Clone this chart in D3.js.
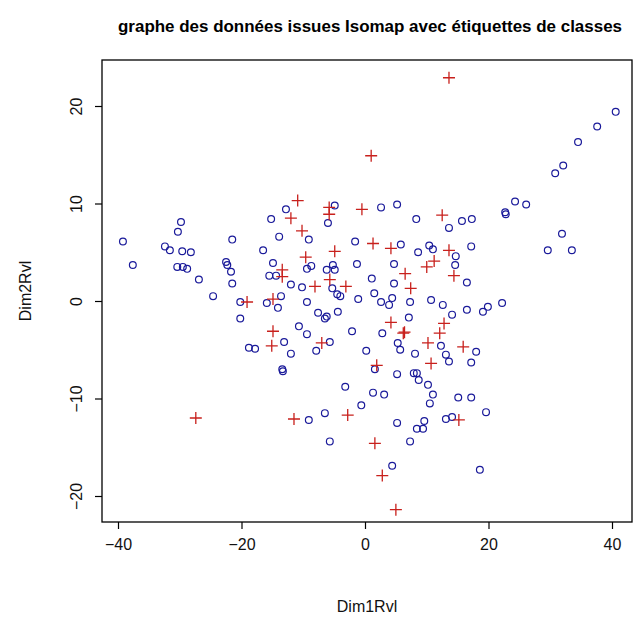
<!DOCTYPE html>
<html>
<head>
<meta charset="utf-8">
<script src="https://cdn.jsdelivr.net/npm/d3@7"></script>
<style>
  body { margin: 0; background: #fff; }
  text { font-family: "Liberation Sans", Arial, sans-serif; }
</style>
</head>
<body>
<svg id="chart" width="635" height="619"></svg>
<script>
// class 1 (blue circles)
const blueX = [-39.2,-37.6,-29.8,-30.3,-32.4,-31.6,-29.6,-28.2,-30.4,-29.5,-28.8,-26.9,-24.6,-21.5,-22.5,-22.3,-21.7,-21.5,-20.2,-20.2,-18.8,-17.8,-16.5,-15.2,-12.8,-13.9,-14.9,-15.5,-14.4,-12.0,-13.6,-15.9,-14.1,-10.2,-9.4,-9.1,-9.4,-8.7,-6.0,-4.9,-1.6,-6.2,-5.2,-4.9,-5.3,-4.5,-4.0,-1.3,-1.1,-7.6,-6.2,-6.5,-4.4,-10.7,-9.4,-2.1,-5.7,-7.9,-13.1,-12.0,0.2,-13.4,
  30.8,2.6,5.2,8.3,13.6,15.7,17.3,22.7,22.8,24.3,26.1,31.9,29.6,33.5,5.8,8.6,10.4,11.0,14.7,14.6,17.2,4.7,1.1,4.7,16.5,1.5,2.6,3.9,4.4,7.3,10.7,12.6,14.1,16.5,19.1,19.9,22.2,7.1,2.8,5.3,5.7,8.1,12.3,13.1,13.6,17.2,18.0,
  -13.3,1.6,5.2,7.9,8.4,8.7,10.2,-3.2,1.3,3.1,11.0,10.5,15.1,17.2,-0.6,-6.5,-9.1,19.6,5.2,9.6,8.4,9.4,13.1,14.1,-5.7,7.3,4.4,18.6,
  40.6,37.6,34.5,32.1];
const blueY = [6.1,3.7,8.1,7.1,5.6,5.2,5.1,5.0,3.5,3.5,3.3,2.2,0.5,6.3,4.0,3.7,3.0,1.8,-0.1,-1.8,-4.8,-4.9,5.2,8.4,9.4,6.6,3.9,2.6,2.6,1.7,0.5,-0.2,-0.7,1.4,-0.1,6.3,3.3,3.6,8.0,9.8,6.1,3.2,3.7,3.2,1.3,0.7,0.5,3.8,0.2,-1.2,-1.6,-1.8,-1.1,-2.6,-3.4,-3.1,-4.2,-5.1,-4.2,-5.4,-5.1,-7.0,
  13.1,9.6,9.9,8.4,7.5,8.2,8.4,9.1,8.9,10.2,9.9,6.9,5.2,5.2,5.8,5.0,5.7,5.3,4.6,3.7,5.6,3.8,2.3,1.8,1.9,0.8,-0.1,-0.4,0.3,-0.1,0.1,-0.4,-1.4,-0.9,-1.1,-0.6,-0.2,-1.7,-3.3,-4.3,-5.0,-5.4,-4.6,-5.5,-6.2,-6.3,-5.2,
  -7.2,-7.0,-7.5,-7.4,-7.4,-8.1,-8.6,-8.8,-9.4,-9.6,-9.6,-10.5,-9.9,-9.9,-10.7,-11.5,-12.2,-11.4,-12.5,-12.3,-13.1,-13.1,-12.1,-11.9,-14.4,-14.4,-16.9,-17.3,
  19.4,17.9,16.3,13.9];
// class 2 (red crosses)
const redX = [13.6,1.0,-10.9,-12.0,-10.2,-5.8,-5.8,-0.5,-4.9,-9.6,-13.4,-13.4,-8.1,-5.7,-3.1,-19.1,-14.9,-14.9,-15.1,-7.0,
  12.5,1.3,4.2,13.6,11.2,10.0,6.5,14.4,7.4,4.2,6.2,6.4,12.1,12.8,10.2,15.9,1.9,10.7,-27.4,-11.5,-2.8,15.2,1.6,2.8,5.0];
const redY = [22.9,14.9,10.3,8.5,7.2,9.6,8.9,9.4,5.1,4.5,3.2,2.5,1.5,2.2,1.5,-0.1,0.2,-3.1,-4.6,-4.3,
  8.8,5.9,5.4,5.2,4.1,3.5,2.8,2.6,1.3,-2.2,-3.3,-3.2,-3.3,-2.3,-4.3,-4.7,-6.6,-6.4,-12.0,-12.1,-11.7,-12.2,-14.6,-17.9,-21.4];
const xTicks = [-40, -20, 0, 20, 40];
const yTicks = [-20, -10, 0, 10, 20];

const svg = d3.select("#chart");
const mLeft = 102, mRight = 632, mTop = 60, mBottom = 522;

const x = d3.scaleLinear().domain([-40, 40]).range([118, 612]);
const y = d3.scaleLinear().domain([-20, 20]).range([496, 106]);

svg.append("rect")
  .attr("x", mLeft).attr("y", mTop)
  .attr("width", mRight - mLeft).attr("height", mBottom - mTop)
  .attr("fill", "none").attr("stroke", "#000").attr("stroke-width", 1.3);

const gx = svg.append("g").attr("transform", `translate(0,${mBottom})`)
  .call(d3.axisBottom(x).tickValues(xTicks).tickSize(7).tickPadding(10));
const gy = svg.append("g").attr("transform", `translate(${mLeft},0)`)
  .call(d3.axisLeft(y).tickValues(yTicks).tickSize(7));
[gx, gy].forEach(g => {
  g.select(".domain").remove();
  g.selectAll("line").attr("stroke", "#000").attr("stroke-width", 1.2);
  g.selectAll("text").attr("font-size", 16).attr("fill", "#111")
    .style("font-family", "'Liberation Sans', Arial, sans-serif");
});
gy.selectAll(".tick text")
  .attr("x", null).attr("dy", null)
  .attr("text-anchor", "middle")
  .attr("transform", "translate(-20,0) rotate(-90)");

svg.append("g").selectAll("circle")
  .data(d3.zip(blueX, blueY)).join("circle")
  .attr("cx", d => x(d[0])).attr("cy", d => y(d[1]))
  .attr("r", 3.4).attr("fill", "none")
  .attr("stroke", "#1a1a9a").attr("stroke-width", 1.2);

const s = 6;
svg.append("g").selectAll("path")
  .data(d3.zip(redX, redY)).join("path")
  .attr("d", d => {
    const px = x(d[0]), py = y(d[1]);
    return `M${px - s},${py}H${px + s}M${px},${py - s}V${py + s}`;
  })
  .attr("stroke", "#c8201c").attr("stroke-width", 1.3).attr("fill", "none");

svg.append("text")
  .attr("x", 370).attr("y", 32)
  .attr("text-anchor", "middle")
  .attr("font-size", 16.5).attr("font-weight", "bold")
  .attr("textLength", 504).attr("lengthAdjust", "spacingAndGlyphs")
  .text("graphe des données issues Isomap avec étiquettes de classes");

svg.append("text")
  .attr("x", 367).attr("y", 612)
  .attr("text-anchor", "middle").attr("font-size", 16).attr("fill", "#111")
  .text("Dim1Rvl");

svg.append("text")
  .attr("transform", `translate(31,${(mTop + mBottom) / 2}) rotate(-90)`)
  .attr("text-anchor", "middle").attr("font-size", 16).attr("fill", "#111")
  .text("Dim2Rvl");
</script>
</body>
</html>
